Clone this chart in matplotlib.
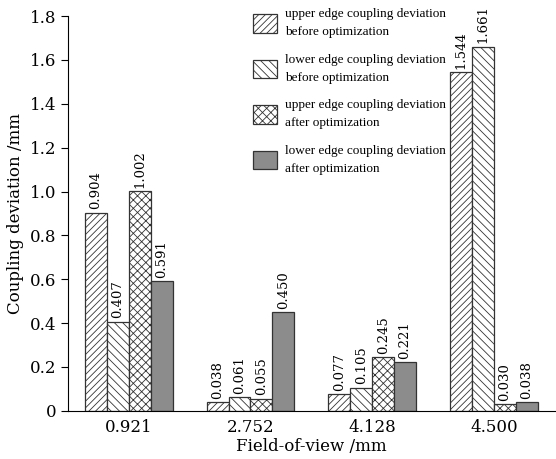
import matplotlib
matplotlib.use("Agg")
import matplotlib.pyplot as plt
import numpy as np

plt.rcParams["font.family"] = ["DejaVu Serif"]
plt.rcParams["hatch.linewidth"] = 0.6

fov_labels = ["0.921", "2.752", "4.128", "4.500"]
series_names = [
    "upper edge coupling deviation\nbefore optimization",
    "lower edge coupling deviation\nbefore optimization",
    "upper edge coupling deviation\nafter optimization",
    "lower edge coupling deviation\nafter optimization",
]
upper_before = [0.904, 0.038, 0.077, 1.544]
lower_before = [0.407, 0.061, 0.105, 1.661]
upper_after = [1.002, 0.055, 0.245, 0.030]
lower_after = [0.591, 0.450, 0.221, 0.038]

series = [upper_before, lower_before, upper_after, lower_after]
hatches = ["/////", "\\\\\\\\", "xxxx", None]
faces = ["white", "white", "white", "#8c8c8c"]

fig, ax = plt.subplots(figsize=(5.56, 4.59), dpi=100)
fig.subplots_adjust(left=0.122, right=0.998, top=0.965, bottom=0.105)

x = np.arange(len(fov_labels))
w = 0.18
for i, vals in enumerate(series):
    pos = x + (i - 1.5) * w
    bars = ax.bar(pos, vals, w, color=faces[i], edgecolor="#333333", linewidth=0.9,
                  hatch=hatches[i], label=series_names[i])
    for b, v in zip(bars, vals):
        ax.text(b.get_x() + b.get_width() / 2, v + 0.015, f"{v:.3f}",
                rotation=90, ha="center", va="bottom", fontsize=9.5)

ax.set_xlim(-0.5, 3.5)
ax.set_ylim(0, 1.8)
ax.set_yticks(np.arange(0, 1.81, 0.2))
ax.set_yticklabels(["0"] + [f"{t:.1f}" for t in np.arange(0.2, 1.81, 0.2)])
ax.set_xticks(x)
ax.set_xticklabels(fov_labels)
ax.tick_params(axis="x", length=0, labelsize=12, pad=6)
ax.tick_params(axis="y", direction="out", length=5, labelsize=12)
ax.spines["top"].set_visible(False)
ax.spines["right"].set_visible(False)
ax.set_xlabel("Field-of-view /mm", fontsize=12, labelpad=1)
ax.set_ylabel("Coupling deviation /mm", fontsize=12)

leg = ax.legend(loc="upper left", bbox_to_anchor=(0.38, 1.02), frameon=False,
                prop={"family": "Liberation Serif", "size": 9.5},
                borderpad=0, borderaxespad=0,
                handlelength=1.85, handleheight=1.8, labelspacing=1.15, handletextpad=0.55)
for t in leg.get_texts():
    t.set_linespacing(1.7)

fig.savefig("out.png", dpi=100)
